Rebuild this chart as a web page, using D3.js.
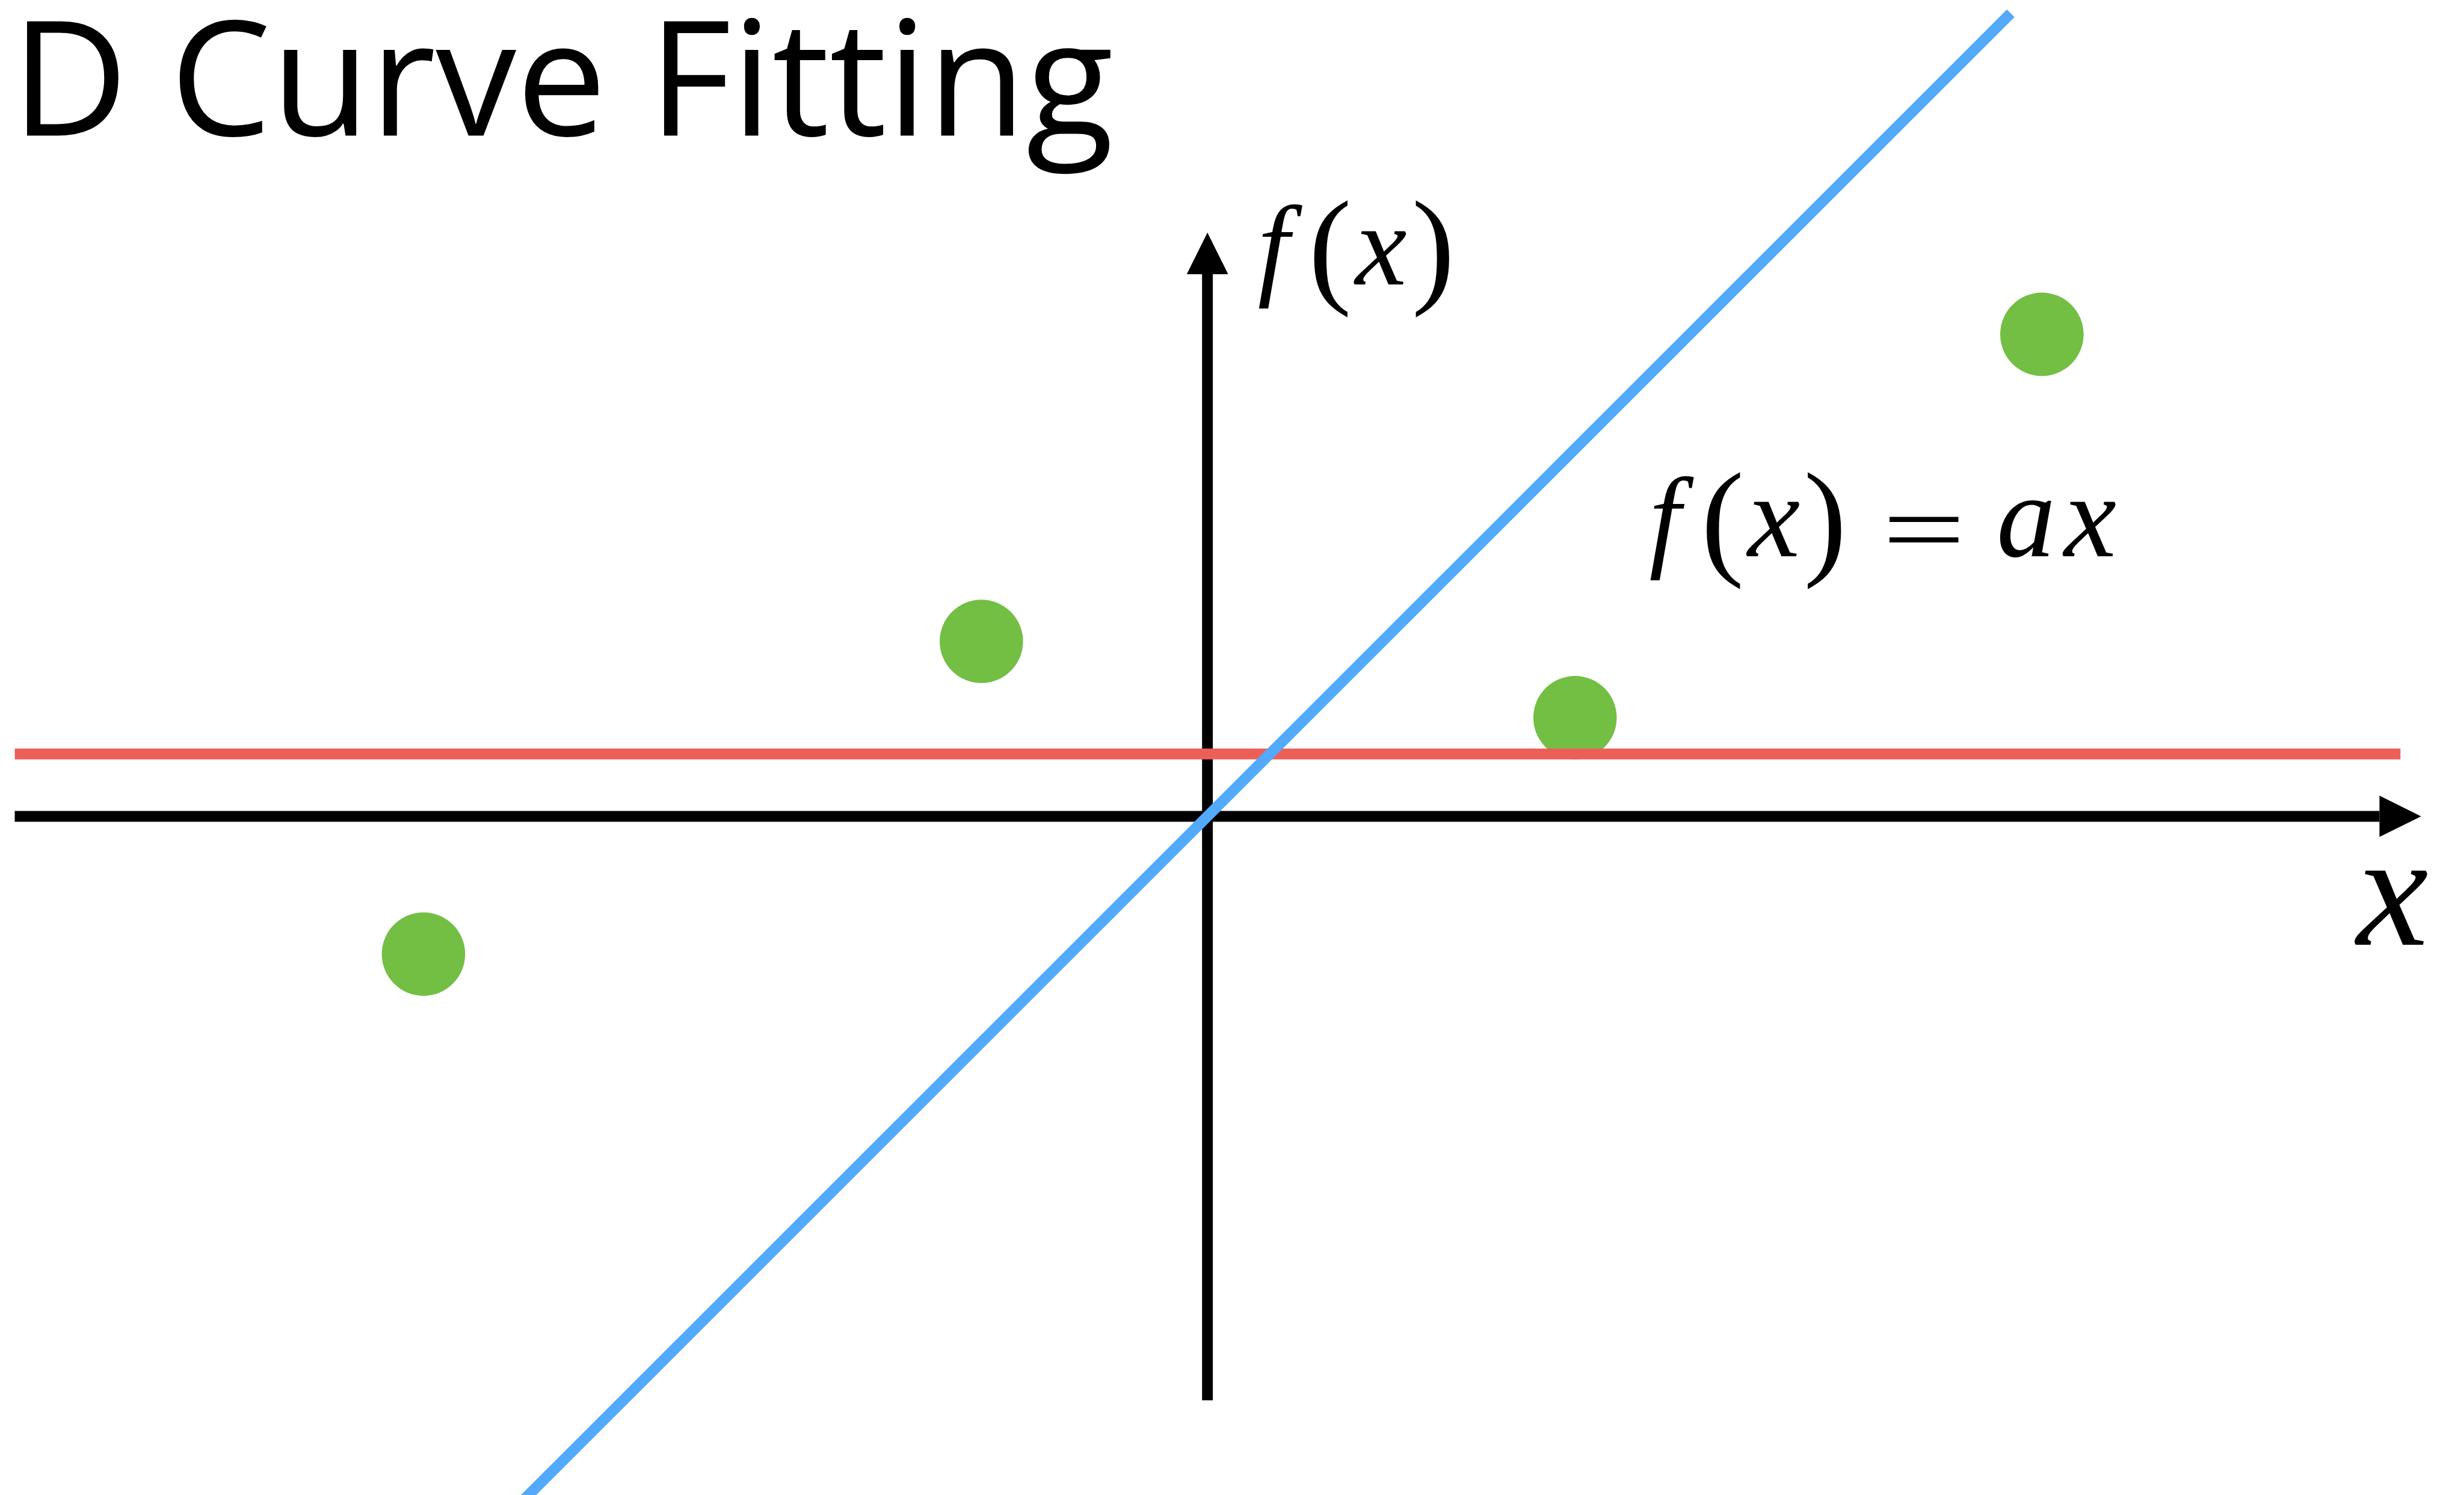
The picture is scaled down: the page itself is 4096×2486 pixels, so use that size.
<!DOCTYPE html>
<html>
<head>
<meta charset="utf-8">
<script src="https://cdn.jsdelivr.net/npm/d3@7"></script>
<style>
  html, body { margin: 0; padding: 0; background: #fff; overflow: hidden; }
  svg { display: block; }
</style>
</head>
<body>
<div id="chart"></div>
<script>
// reference is 4343 x 2636, drawn at 0.943
const S = 0.943;
const W = 4096, H = 2486;

// data (units: 1 = 100 reference px, origin at the axes crossing)
const pointsX = [-13.82, -3.985, 6.48, 14.71];
const pointsY = [-2.43, 3.085, 1.74, 8.50];
const constFitY = 1.10;              // red line, f(x) = c
const constFitX = [-21.025, 21.03];
const slopeA = 1;                    // blue line, f(x) = ax
const slopeX = [-14.5, 14.16];
const xAxisExtent = [-21.025, 21.395];
const yAxisExtent = [-10.298, 10.295];
const arrowLen = 0.735, arrowHalf = 0.365;

const titleText = "D Curve Fitting";

const colors = { axis: "#000", red: "#ec5f59", blue: "#53a9fa", green: "#72bf44" };

const svg = d3.select("#chart").append("svg")
    .attr("width", W)
    .attr("height", H);

const xScale = d3.scaleLinear().domain([-21.285, 22.145]).range([0, 4343 * S]);
const yScale = d3.scaleLinear().domain([14.395, -11.965]).range([0, 2636 * S]);
const unit = xScale(1) - xScale(0);
const lw = 19 * S;

// axes
const axisG = svg.append("g").attr("class", "axes");
axisG.append("line")
    .attr("x1", xScale(xAxisExtent[0])).attr("x2", xScale(xAxisExtent[1] - arrowLen))
    .attr("y1", yScale(0)).attr("y2", yScale(0))
    .attr("stroke", colors.axis).attr("stroke-width", lw);
axisG.append("path")
    .attr("d", d3.line()([
        [xScale(xAxisExtent[1]), yScale(0)],
        [xScale(xAxisExtent[1] - arrowLen), yScale(arrowHalf)],
        [xScale(xAxisExtent[1] - arrowLen), yScale(-arrowHalf)]
    ]) + "Z")
    .attr("fill", colors.axis);
axisG.append("line")
    .attr("x1", xScale(0)).attr("x2", xScale(0))
    .attr("y1", yScale(yAxisExtent[0])).attr("y2", yScale(yAxisExtent[1] - arrowLen))
    .attr("stroke", colors.axis).attr("stroke-width", lw);
axisG.append("path")
    .attr("d", d3.line()([
        [xScale(0), yScale(yAxisExtent[1])],
        [xScale(-arrowHalf), yScale(yAxisExtent[1] - arrowLen)],
        [xScale(arrowHalf), yScale(yAxisExtent[1] - arrowLen)]
    ]) + "Z")
    .attr("fill", colors.axis);

// data points
svg.append("g").selectAll("circle")
    .data(pointsX.map((x, i) => [x, pointsY[i]]))
    .join("circle")
    .attr("cx", d => xScale(d[0]))
    .attr("cy", d => yScale(d[1]))
    .attr("r", 0.735 * unit)
    .attr("fill", colors.green);

// constant fit (red)
svg.append("line")
    .attr("x1", xScale(constFitX[0])).attr("x2", xScale(constFitX[1]))
    .attr("y1", yScale(constFitY)).attr("y2", yScale(constFitY))
    .attr("stroke", colors.red).attr("stroke-width", lw);

// linear fit through origin (blue)
svg.append("path")
    .attr("d", d3.line().x(d => xScale(d)).y(d => yScale(slopeA * d))(slopeX))
    .attr("fill", "none")
    .attr("stroke", colors.blue).attr("stroke-width", lw)
    .attr("stroke-linecap", "butt");

// title
svg.append("text")
    .attr("x", 20 * S).attr("y", 239 * S)
    .attr("font-family", "'Open Sans', sans-serif")
    .attr("font-size", 282 * S)
    .attr("textLength", 1943 * S)
    .attr("lengthAdjust", "spacingAndGlyphs")
    .attr("fill", "#000")
    .text(titleText);

// math labels, one glyph at a time (reference px)
function glyph(ch, cx, base, size, italic, sx) {
    svg.append("text")
        .attr("transform", `translate(${cx * S},${base * S}) scale(${sx || 1},1)`)
        .attr("text-anchor", "middle")
        .attr("font-family", "'Liberation Serif', serif")
        .attr("font-style", italic ? "italic" : "normal")
        .attr("font-size", size * S)
        .attr("fill", "#000")
        .text(ch);
}
// y axis label f(x)
glyph("f", 2245, 502, 200, true);
glyph("(", 2344.6, 511, 228, false);
glyph("x", 2434.5, 502, 205, true);
glyph(")", 2526.5, 511, 228, false);
// equation f(x) = ax
glyph("f", 2935, 981, 200, true);
glyph("(", 3036.7, 990, 228, false);
glyph("x", 3127, 981, 208, true);
glyph(")", 3217.5, 990, 228, false);
glyph("=", 3391.5, 994, 180, false, 1.45);
glyph("a", 3571.6, 981, 208, true);
glyph("x", 3684.5, 981, 208, true);
// x axis label
glyph("x", 4217.5, 1666, 285, true);
</script>
</body>
</html>
